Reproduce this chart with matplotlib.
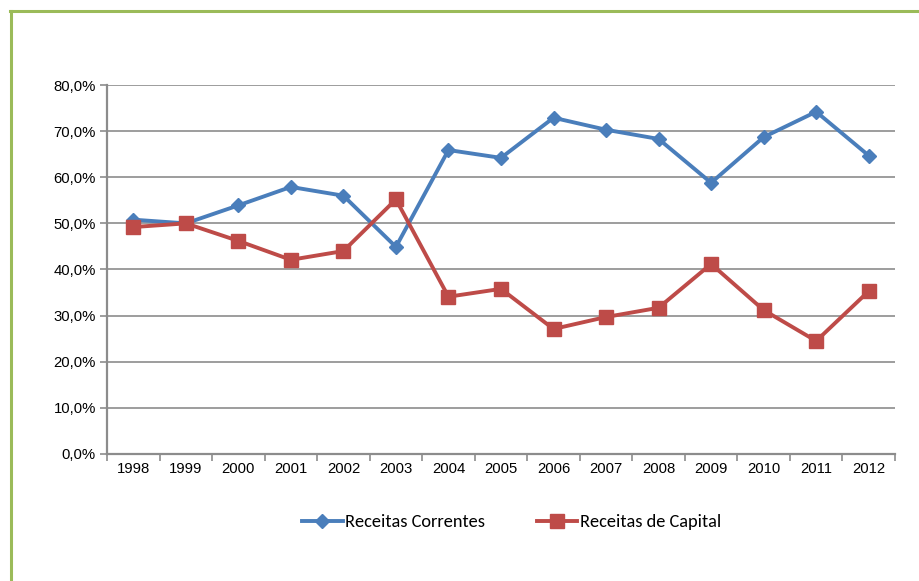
import matplotlib
matplotlib.use("Agg")
import matplotlib.pyplot as plt
from matplotlib.lines import Line2D
from matplotlib.ticker import FixedLocator, FuncFormatter

anos = ["1998", "1999", "2000", "2001", "2002", "2003", "2004", "2005",
        "2006", "2007", "2008", "2009", "2010", "2011", "2012"]
receitas_correntes = [50.8, 50.0, 53.9, 57.9, 56.0, 44.9, 65.9, 64.2,
                      72.9, 70.3, 68.3, 58.8, 68.7, 74.2, 64.7]
receitas_capital = [49.2, 50.0, 46.2, 42.1, 44.0, 55.2, 34.1, 35.8,
                    27.1, 29.7, 31.7, 41.2, 31.2, 24.5, 35.3]

AZUL = "#4a7ebb"
VERMELHO = "#be4b48"
CINZA = "#8c8c8c"
VERDE = "#9bbb59"

plt.rcParams["font.family"] = ["Liberation Sans", "DejaVu Sans"]

fig = plt.figure(figsize=(9.2, 5.81), dpi=100)
ax = fig.add_axes([0.1163, 0.2186, 0.8565, 0.6351])

x = list(range(len(anos)))
ax.plot(x, receitas_correntes, color=AZUL, lw=2.8, marker="D", ms=7.5,
        label="Receitas Correntes", zorder=3)
ax.plot(x, receitas_capital, color=VERMELHO, lw=2.8, marker="s", ms=9.5,
        label="Receitas de Capital", zorder=3)

ax.set_xlim(-0.5, len(anos) - 0.5)
ax.set_ylim(0, 80)
ax.set_yticks(range(0, 81, 10))
ax.yaxis.set_major_formatter(FuncFormatter(lambda v, _: f"{v:.1f}%".replace(".", ",")))
ax.set_xticks(x)
ax.set_xticklabels(anos)
ax.xaxis.set_minor_locator(FixedLocator([i - 0.5 for i in range(len(anos) + 1)]))
ax.tick_params(axis="x", which="major", length=0, labelsize=10.7, pad=6)
ax.tick_params(axis="x", which="minor", length=5, width=1.2, color=CINZA, direction="out")
ax.tick_params(axis="y", length=5, width=1.2, color=CINZA, labelsize=10.7, pad=3)

ax.grid(True, axis="y", color=CINZA, lw=1.2)
ax.set_axisbelow(True)
for lado in ("top", "right"):
    ax.spines[lado].set_visible(False)
for lado in ("left", "bottom"):
    ax.spines[lado].set_color(CINZA)
    ax.spines[lado].set_linewidth(1.6)

fig.legend(loc="center", bbox_to_anchor=(0.556, 0.1015), ncol=2, frameon=False,
           handlelength=2.2, handletextpad=0.12, columnspacing=2.85,
           prop={"family": ["Carlito", "Lato", "DejaVu Sans"], "size": 13.2})

# moldura verde (topo e lado esquerdo)
fig.add_artist(Line2D([10 / 920, 1], [1 - 11 / 581, 1 - 11 / 581], color=VERDE, lw=2.2))
fig.add_artist(Line2D([11 / 920, 11 / 920], [0, 1 - 11 / 581], color=VERDE, lw=2.2))

fig.savefig("out.png", dpi=100)
